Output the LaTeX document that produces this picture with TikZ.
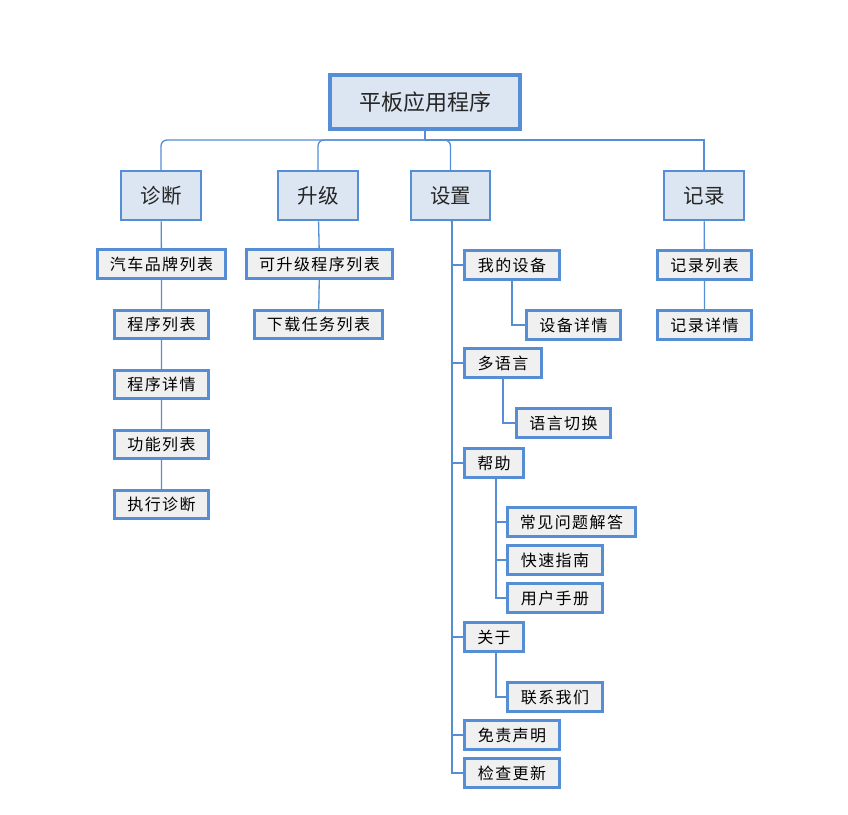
\documentclass[tikz,border=0pt]{standalone}
\usepackage{fontspec}
\setmainfont{Noto Sans CJK SC}
\newfontfamily\leaffont[LetterSpace=9]{Noto Sans CJK SC}
\definecolor{edge}{HTML}{558ED5}
\definecolor{headfill}{HTML}{DCE6F2}
\definecolor{leaffill}{HTML}{F0F0F0}
\definecolor{headtext}{HTML}{262626}
\tikzset{
  rootbox/.style={draw=edge, fill=headfill, line width=4pt, text=headtext,
    font=\fontsize{22}{26}\selectfont, inner sep=0pt},
  headbox/.style={draw=edge, fill=headfill, line width=2.5pt, text=headtext,
    font=\fontsize{20.5}{24}\selectfont, inner sep=0pt},
  leafbox/.style={draw=edge, fill=leaffill, line width=3pt, text=black,
    font=\leaffont\fontsize{16}{18}\selectfont, inner sep=0pt},
  sz/.style 2 args={minimum width=#1pt, minimum height=#2pt},
  conn/.style={draw=edge, line width=1.3pt},
  trunkconn/.style={draw=edge, line width=1.8pt},
  busconn/.style={conn, rounded corners=6pt}
}
\begin{document}
\begin{tikzpicture}[x=1pt, y=-1pt]
\useasboundingbox (0,0) rectangle (848,814);

% top level
\node[rootbox, sz={190}{54}] (root) at (425,102) {平板应用程序};

% second level
\node[headbox, sz={80}{49}] (diag) at (161,195.5) {诊断};
\node[headbox, sz={80}{49}] (upg)  at (318,195.5) {升级};
\node[headbox, sz={79}{49}] (set)  at (450.5,195.5) {设置};
\node[headbox, sz={80}{49}] (rec)  at (704,195.5) {记录};

% diagnosis branch
\node[leafbox, sz={128}{29}] (brand) at (161.5,264) {汽车品牌列表};
\node[leafbox, sz={94}{28}] (plist) at (161.5,324.5) {程序列表};
\node[leafbox, sz={94}{28}] (pdet)  at (161.5,384.5) {程序详情};
\node[leafbox, sz={94}{28}] (flist) at (161.5,444.5) {功能列表};
\node[leafbox, sz={94}{28}] (exec)  at (161.5,504.5) {执行诊断};

% upgrade branch
\node[leafbox, sz={146}{29}] (uplist) at (319.5,264) {可升级程序列表};
\node[leafbox, sz={128}{28}] (dl)     at (318.5,324.5) {下载任务列表};

% settings branch
\node[leafbox, sz={95}{29}]  (mydev)   at (512,265)   {我的设备};
\node[leafbox, sz={94}{29}]  (devdet)  at (573.5,325) {设备详情};
\node[leafbox, sz={77}{29}]  (lang)    at (503,363)   {多语言};
\node[leafbox, sz={94}{29}]  (langsw)  at (563.5,423) {语言切换};
\node[leafbox, sz={59}{29}]  (help)    at (494,463)   {帮助};
\node[leafbox, sz={128}{29}] (faq)     at (571.5,522) {常见问题解答};
\node[leafbox, sz={95}{29}]  (quick)   at (555,560)   {快速指南};
\node[leafbox, sz={95}{29}]  (manual)  at (555,598)   {用户手册};
\node[leafbox, sz={59}{29}]  (about)   at (494,637)   {关于};
\node[leafbox, sz={95}{29}]  (contact) at (555,697)   {联系我们};
\node[leafbox, sz={95}{29}]  (discl)   at (512,735)   {免责声明};
\node[leafbox, sz={95}{29}]  (check)   at (512,773)   {检查更新};

% records branch
\node[leafbox, sz={94}{29}] (reclist) at (704.5,265) {记录列表};
\node[leafbox, sz={94}{29}] (recdet)  at (704.5,325) {记录详情};

% bus from the root to the second level
\coordinate (bus) at (425,140);
\draw[conn] (root.south) -- (bus);
\draw[busconn] (bus) -| (diag.north);
\draw[busconn] (bus) -| (upg.north);
\draw[busconn] (bus) -| (set.north);
\draw[conn] (bus) -| (rec.north);

% chains
\draw[conn] (diag) -- (brand) -- (plist) -- (pdet) -- (flist) -- (exec);
\draw[conn] (upg) -- (uplist) -- (dl);
\draw[conn] (rec) -- (reclist) -- (recdet);

% settings trunk
\coordinate (trunk) at (452,220.5);
\draw[trunkconn] (set.south) -- (trunk);
\foreach \n in {mydev,lang,help,about,discl,check}
  \draw[trunkconn] (trunk) |- (\n.west);

% settings sub-items
\draw[conn] (mydev.south) |- (devdet.west);
\draw[conn] (lang.south) |- (langsw.west);
\coordinate (helpdrop) at ([xshift=2pt]help.south);
\foreach \n in {faq,quick,manual}
  \draw[conn] (helpdrop) |- (\n.west);
\draw[conn] ([xshift=2pt]about.south) |- (contact.west);
\end{tikzpicture}
\end{document}
